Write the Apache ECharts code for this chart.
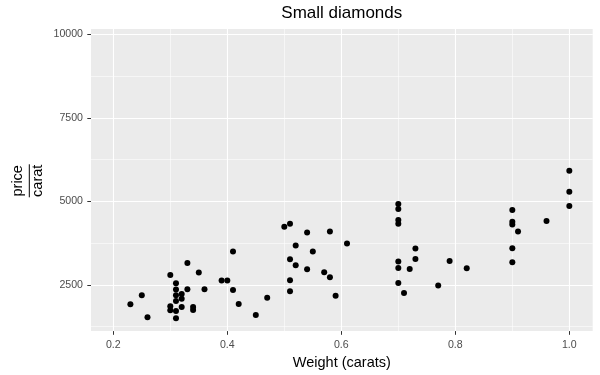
<!DOCTYPE html>
<html>
<head>
<meta charset="utf-8">
<script src="https://cdn.jsdelivr.net/npm/echarts@6/dist/echarts.min.js"></script>
<style>
  html, body { margin: 0; padding: 0; background: #ffffff; }
  #chart { width: 600px; height: 375px; }
</style>
</head>
<body>
<div id="chart"></div>
<script>
// Data
const carat = [
  0.41, 0.33, 0.35, 0.30, 0.31, 0.39, 0.40, 0.31, 0.33, 0.36,
  0.41, 0.25, 0.31, 0.32, 0.32, 0.31, 0.47, 0.23, 0.42, 0.30,
  0.30, 0.31, 0.32, 0.34, 0.34, 0.26, 0.31, 0.45,
  0.70, 0.70, 0.70, 0.70, 0.50, 0.51, 0.54, 0.58, 0.61, 0.52,
  0.55, 0.73, 0.51, 0.52, 0.54, 0.57, 0.58, 0.70, 0.70, 0.72,
  0.73, 0.51, 0.51, 0.59, 0.70, 0.71, 0.77,
  1.00, 1.00, 1.00, 0.90, 0.90, 0.90, 0.91, 0.96, 0.90, 0.90,
  0.79, 0.82
];
const price = [
  3500, 3160, 2870, 2800, 2550, 2630, 2630, 2360, 2370, 2370,
  2350, 2190, 2190, 2230, 2090, 2020, 2120, 1920, 1930, 1860,
  1740, 1720, 1840, 1840, 1750, 1530, 1500, 1600,
  4920, 4770, 4440, 4330, 4240, 4330, 4070, 4100, 3740, 3680,
  3500, 3590, 3270, 3090, 2970, 2880, 2730, 3200, 3010, 2980,
  3280, 2640, 2310, 2180, 2560, 2260, 2480,
  5920, 5290, 4860, 4740, 4390, 4310, 4100, 4410, 3600, 3180,
  3220, 3000
];
const xTicks = [0.2, 0.4, 0.6, 0.8, 1.0];
const xMinor = [0.3, 0.5, 0.7, 0.9];
const yTicks = [2500, 5000, 7500, 10000];
const yMinor = [1250, 3750, 6250, 8750];
const titleText = 'Small diamonds';
const xTitle = 'Weight (carats)';
const yTitleTop = 'price';
const yTitleBottom = 'carat';

const points = carat.map((c, i) => [c, price[i]]);
const FONT = '"Liberation Sans", Arial, Helvetica, sans-serif';

const gridLines = [];
xMinor.forEach(v => gridLines.push({ xAxis: v, lineStyle: { width: 0.55 } }));
yMinor.forEach(v => gridLines.push({ yAxis: v, lineStyle: { width: 0.55 } }));
xTicks.forEach(v => gridLines.push({ xAxis: v, lineStyle: { width: 1.1 } }));
yTicks.forEach(v => gridLines.push({ yAxis: v, lineStyle: { width: 1.1 } }));

const chart = echarts.init(document.getElementById('chart'), null, { renderer: 'canvas' });
chart.setOption({
  animation: false,
  backgroundColor: '#ffffff',
  grid: {
    left: 91, right: 7.3, top: 29, bottom: 43,
    show: true, backgroundColor: '#EBEBEB', borderWidth: 0
  },
  xAxis: {
    type: 'value',
    min: 0.1609, max: 1.041,
    axisLine: { show: false },
    splitLine: { show: false },
    axisTick: { show: true, customValues: xTicks, length: 3.7, lineStyle: { color: '#333333', width: 1 } },
    axisLabel: {
      customValues: xTicks, margin: 8, color: '#4D4D4D', fontSize: 10.6, fontFamily: FONT,
      formatter: v => Number(v).toFixed(1)
    },
    name: xTitle, nameLocation: 'middle', nameGap: 20,
    nameTextStyle: { color: '#000000', fontSize: 14.5, fontFamily: FONT }
  },
  yAxis: {
    type: 'value',
    min: 1119, max: 10158,
    axisLine: { show: false },
    splitLine: { show: false },
    axisTick: { show: true, customValues: yTicks, length: 3.7, lineStyle: { color: '#333333', width: 1 } },
    axisLabel: {
      customValues: yTicks, margin: 8, color: '#4D4D4D', fontSize: 10.6, fontFamily: FONT,
      formatter: v => String(Math.round(v))
    }
  },
  graphic: [
    { type: 'text', x: 341.8, y: 13.5, style: { text: titleText, fill: '#000000', font: '17px ' + FONT, align: 'center', verticalAlign: 'middle' } },
    { type: 'text', x: 17.5, y: 180.8, rotation: Math.PI / 2, style: { text: yTitleTop, fill: '#000000', font: '14.5px ' + FONT, align: 'center', verticalAlign: 'middle' } },
    { type: 'text', x: 38, y: 180.8, rotation: Math.PI / 2, style: { text: yTitleBottom, fill: '#000000', font: '14.5px ' + FONT, align: 'center', verticalAlign: 'middle' } },
    { type: 'line', shape: { x1: 29.3, y1: 164.3, x2: 29.3, y2: 197.3 }, style: { stroke: '#000000', lineWidth: 1 } }
  ],
  series: [
    {
      type: 'scatter', data: [], z: 1, silent: true,
      markLine: {
        z: 1, silent: true, symbol: ['none', 'none'], label: { show: false },
        lineStyle: { color: '#ffffff', type: 'solid' },
        emphasis: { disabled: true },
        data: gridLines
      }
    },
    {
      type: 'scatter', data: points, z: 10,
      symbol: 'circle', symbolSize: 6,
      itemStyle: { color: '#000000', opacity: 1 }
    }
  ]
});
</script>
</body>
</html>
